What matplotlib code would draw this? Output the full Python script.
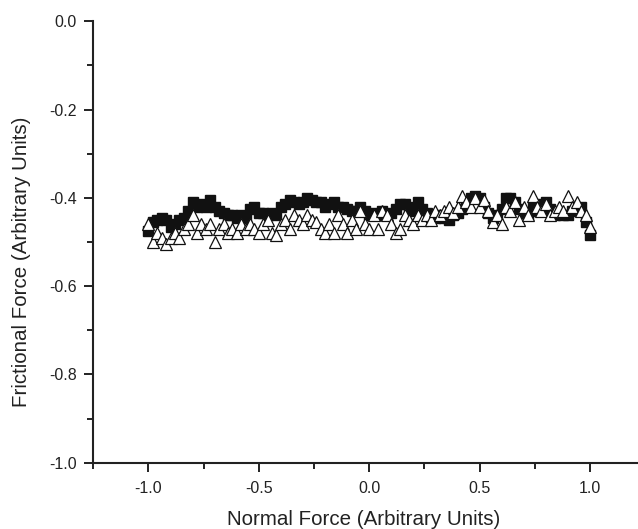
import numpy as np
import matplotlib.pyplot as plt
from matplotlib.ticker import MultipleLocator

plt.rcParams['font.family'] = ['Liberation Sans', 'DejaVu Sans']

# normal force sweep, 101 samples from -1 to 1
normal = np.linspace(-1.0, 1.0, 101)

friction_sq = [
    -0.475, -0.455, -0.450, -0.445, -0.450, -0.465, -0.460, -0.450, -0.445, -0.430,
    -0.410, -0.420, -0.415, -0.420, -0.405, -0.420, -0.430, -0.435, -0.440, -0.440,
    -0.445, -0.440, -0.445, -0.425, -0.420, -0.435, -0.435, -0.440, -0.435, -0.440,
    -0.420, -0.415, -0.405, -0.410, -0.415, -0.410, -0.400, -0.405, -0.410, -0.410,
    -0.420, -0.415, -0.410, -0.420, -0.420, -0.425, -0.430, -0.430, -0.420, -0.430,
    -0.440, -0.435, -0.440, -0.430, -0.440, -0.435, -0.425, -0.415, -0.415, -0.420,
    -0.430, -0.410, -0.425, -0.435, -0.440, -0.445, -0.440, -0.445, -0.450, -0.440,
    -0.435, -0.425, -0.410, -0.400, -0.395, -0.400, -0.420, -0.435, -0.445, -0.440,
    -0.425, -0.400, -0.400, -0.410, -0.425, -0.435, -0.440, -0.420, -0.430, -0.415,
    -0.410, -0.425, -0.440, -0.435, -0.440, -0.440, -0.430, -0.425, -0.420, -0.455,
    -0.485,
]

friction_tri = [
    -0.460, -0.500, -0.480, -0.490, -0.505, -0.490, -0.480, -0.490, -0.470, -0.460,
    -0.440, -0.480, -0.460, -0.470, -0.460, -0.500, -0.470, -0.460, -0.480, -0.470,
    -0.480, -0.460, -0.470, -0.460, -0.470, -0.480, -0.460, -0.450, -0.480, -0.485,
    -0.460, -0.450, -0.470, -0.440, -0.450, -0.460, -0.440, -0.450, -0.455, -0.470,
    -0.480, -0.460, -0.480, -0.440, -0.460, -0.480, -0.450, -0.470, -0.430, -0.460,
    -0.470, -0.440, -0.470, -0.430, -0.440, -0.460, -0.480, -0.470, -0.440, -0.450,
    -0.460, -0.440, -0.450, -0.440, -0.450, -0.430, -0.440, -0.430, -0.420, -0.435,
    -0.420, -0.395, -0.410, -0.420, -0.400, -0.420, -0.405, -0.430, -0.455, -0.440,
    -0.460, -0.420, -0.430, -0.410, -0.450, -0.420, -0.440, -0.395, -0.420, -0.430,
    -0.415, -0.440, -0.430, -0.420, -0.430, -0.395, -0.420, -0.410, -0.430, -0.440,
    -0.465,
]

fig = plt.figure(figsize=(6.38, 5.29), dpi=100)
ax = fig.add_axes([0.1462, 0.1253, 0.865, 0.8346])

ax.plot(normal, friction_sq, ls='none', marker='s', ms=6.8, mfc='#111111', mec='#111111')
ax.plot(normal, friction_tri, ls='none', marker='^', ms=8.5, mfc='white', mec='#111111', mew=0.9)

ax.set_xlim(-1.25, 1.25)
ax.set_ylim(-1.0, 0.0)
ax.xaxis.set_major_locator(MultipleLocator(0.5))
ax.xaxis.set_minor_locator(MultipleLocator(0.25))
ax.yaxis.set_major_locator(MultipleLocator(0.2))
ax.yaxis.set_minor_locator(MultipleLocator(0.1))
ax.xaxis.set_major_formatter(plt.FormatStrFormatter('%.1f'))
ax.yaxis.set_major_formatter(plt.FormatStrFormatter('%.1f'))

for s in ['top', 'right']:
    ax.spines[s].set_visible(False)
for s in ['left', 'bottom']:
    ax.spines[s].set_linewidth(1.5)
    ax.spines[s].set_color('#222222')

ax.tick_params(which='major', length=6.5, width=1.4, color='#222222', labelsize=11.5, labelcolor='#222222')
ax.tick_params(which='minor', length=4, width=1.4, color='#222222')
ax.tick_params(axis='x', which='major', pad=6.5)
ax.tick_params(axis='y', which='major', pad=5.3)

ax.set_xlabel('Normal Force (Arbitrary Units)', fontsize=14.8, color='#222222')
ax.set_ylabel('Frictional Force (Arbitrary Units)', fontsize=14.8, color='#222222')
ax.xaxis.set_label_coords(0.489, -0.106)
ax.yaxis.set_label_coords(-0.113, 0.456)

fig.savefig('out.png', dpi=100)
